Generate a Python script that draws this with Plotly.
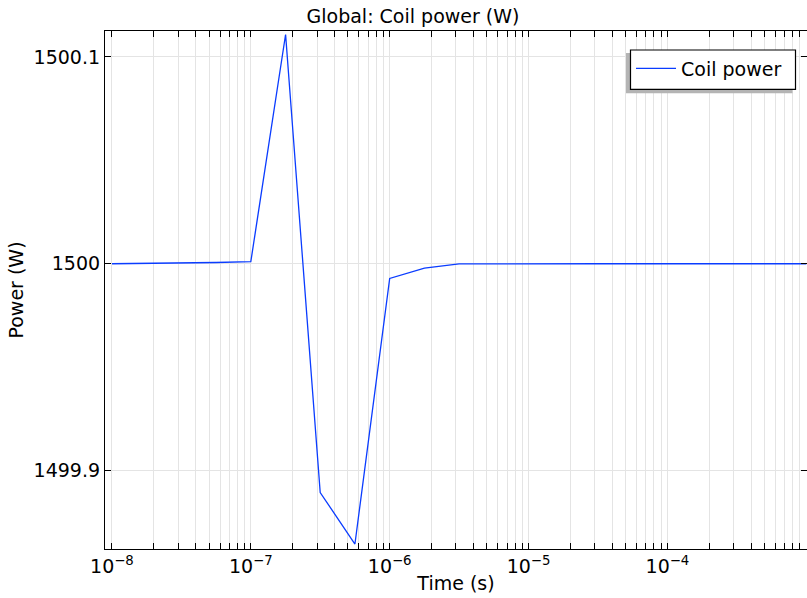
import plotly.graph_objects as go

# Data
time_s = [1e-8, 3.16e-8, 5.62e-8, 1e-7, 1.78e-7, 3.16e-7, 5.62e-7, 1e-6, 1.78e-6, 3.16e-6,
          5.62e-6, 1e-5, 1.78e-5, 3.16e-5, 5.62e-5, 1e-4, 1.78e-4, 3.16e-4, 5.62e-4, 1e-3]
power_w = [1500.0, 1500.0003, 1500.0006, 1500.001, 1500.1108, 1499.8894, 1499.8645, 1499.9929,
           1499.9979, 1499.9999, 1500.0, 1500.0, 1500.0, 1500.0, 1500.0, 1500.0, 1500.0, 1500.0,
           1500.0, 1500.0]

x_tick_vals = [1e-8, 1e-7, 1e-6, 1e-5, 1e-4]
x_tick_text = ["10<sup>\u22128</sup>", "10<sup>\u22127</sup>", "10<sup>\u22126</sup>",
               "10<sup>\u22125</sup>", "10<sup>\u22124</sup>"]
y_tick_vals = [1499.9, 1500.0, 1500.1]
y_tick_text = ["1499.9", "1500", "1500.1"]

minor_vals = [k * 10.0 ** e for e in range(-9, -2) for k in range(2, 10)]

FONT = "DejaVu Sans"
W, H = 807, 598
ML, MR, MT, MB = 105, 0, 31, 49

fig = go.Figure()
fig.add_trace(go.Scatter(x=time_s, y=power_w, mode="lines", name="Coil power",
                         line=dict(color="#0a3cff", width=1.3)))

pw = W - ML - MR
ph = H - MT - MB
def px2x(p):
    return (p - ML) / pw
def px2y(p):
    return (H - MB - p) / ph

# legend shadow
fig.add_shape(type="rect", xref="paper", yref="paper",
              x0=px2x(626), x1=px2x(792.5), y0=px2y(93.3), y1=px2y(53),
              fillcolor="#b4b4b4", line=dict(width=0), layer="above")
# legend frame
fig.add_shape(type="rect", xref="paper", yref="paper",
              x0=px2x(630.5), x1=px2x(795.5), y0=px2y(89.3), y1=px2y(50),
              fillcolor="white", line=dict(color="black", width=1.2), layer="above")

fig.update_layout(
    width=W, height=H,
    margin=dict(l=ML, r=MR, t=MT, b=MB),
    paper_bgcolor="white", plot_bgcolor="white",
    font=dict(family=FONT, size=19, color="black"),
    title=dict(text="Global: Coil power (W)", x=413 / W, xanchor="center",
               y=1 - 16 / H, yanchor="middle", font=dict(size=19)),
    showlegend=True,
    legend=dict(x=px2x(631), xanchor="left", y=px2y(49.5), yanchor="top",
                bgcolor="rgba(0,0,0,0)", borderwidth=0,
                font=dict(size=19), itemwidth=40),
    xaxis=dict(type="log", range=[-8.05, -2.995],
               tickvals=x_tick_vals, ticktext=x_tick_text,
               ticks="inside", ticklen=6, tickcolor="black", tickwidth=1,
               showline=True, linecolor="black", linewidth=1.2, mirror="ticks",
               showgrid=True, gridcolor="#e4e4e4", gridwidth=1,
               minor=dict(tickvals=minor_vals, ticks="inside", ticklen=6, tickcolor="black",
                          showgrid=True, gridcolor="#e4e4e4", gridwidth=1),
               tickfont=dict(size=19),
               title=dict(text="Time (s)", font=dict(size=19), standoff=0),
               zeroline=False, automargin=False),
    yaxis=dict(range=[1499.8621, 1500.1125],
               tickvals=y_tick_vals, ticktext=y_tick_text,
               ticks="inside", ticklen=6, tickcolor="black", tickwidth=1,
               showline=True, linecolor="black", linewidth=1.2, mirror="ticks",
               showgrid=True, gridcolor="#e4e4e4", gridwidth=1,
               tickfont=dict(size=19),
               title=dict(text="Power (W)", font=dict(size=19), standoff=4),
               zeroline=False, automargin=False),
)

fig.write_html("out.html")
